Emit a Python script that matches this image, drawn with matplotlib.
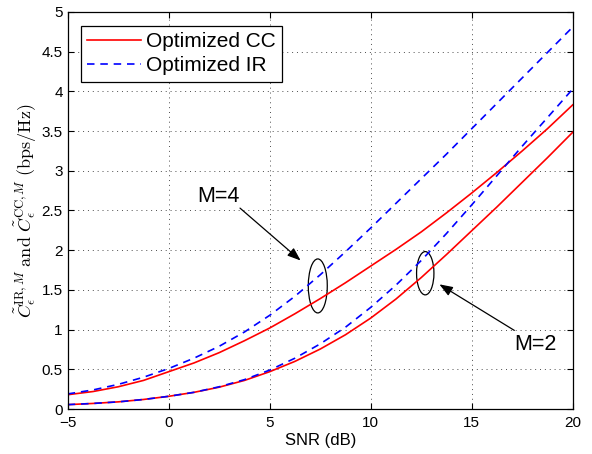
import matplotlib
matplotlib.use("Agg")
import matplotlib.pyplot as plt
from matplotlib.patches import Ellipse

plt.rcParams['font.family'] = ['Liberation Sans', 'DejaVu Sans']
plt.rcParams['mathtext.fontset'] = 'cm'

snr_db = [-5, -3.75, -2.5, -1.25, 0, 1.25, 2.5, 3.75, 5, 6.25, 7.5, 8.75,
          10, 11.25, 12.5, 13.75, 15, 16.25, 17.5, 18.75, 20]
cc_m4 = [0.18, 0.22, 0.28, 0.36, 0.47, 0.58, 0.71, 0.86, 1.02, 1.20, 1.39, 1.59,
         1.80, 2.01, 2.23, 2.47, 2.72, 2.98, 3.25, 3.53, 3.83]
ir_m4 = [0.19, 0.24, 0.31, 0.40, 0.51, 0.64, 0.79, 0.97, 1.18, 1.42, 1.69, 1.98,
         2.28, 2.59, 2.90, 3.21, 3.53, 3.85, 4.17, 4.49, 4.81]
cc_m2 = [0.055, 0.07, 0.09, 0.12, 0.16, 0.21, 0.275, 0.36, 0.47, 0.60, 0.755, 0.935,
         1.145, 1.385, 1.655, 1.945, 2.245, 2.545, 2.855, 3.165, 3.485]
ir_m2 = [0.055, 0.07, 0.09, 0.12, 0.16, 0.21, 0.28, 0.37, 0.49, 0.64, 0.82, 1.03,
         1.28, 1.56, 1.87, 2.21, 2.57, 2.94, 3.31, 3.67, 4.03]

x_ticks = [-5, 0, 5, 10, 15, 20]
y_ticks = [0, 0.5, 1, 1.5, 2, 2.5, 3, 3.5, 4, 4.5, 5]
y_ticklabels = ['0', '0.5', '1', '1.5', '2', '2.5', '3', '3.5', '4', '4.5', '5']

fig = plt.figure(figsize=(5.92, 4.54), dpi=100)
ax = fig.add_axes([0.1144, 0.0991, 0.853, 0.8745])

ax.plot(snr_db, cc_m4, color='red', lw=1.2, label='Optimized CC')
ax.plot(snr_db, ir_m4, color='blue', lw=1.2, dashes=(4.5, 3.5), label='Optimized IR')
ax.plot(snr_db, cc_m2, color='red', lw=1.2)
ax.plot(snr_db, ir_m2, color='blue', lw=1.2, dashes=(4.5, 3.5))

ax.set_xlim(-5, 20)
ax.set_ylim(0, 5)
ax.set_xticks(x_ticks)
ax.set_yticks(y_ticks)
ax.set_yticklabels(y_ticklabels)
ax.tick_params(direction='in', top=True, right=True, labelsize=11, length=4, width=0.8)
ax.tick_params(axis='x', pad=5)
ax.grid(True, linestyle=(0, (1, 4)), color='0.3', lw=0.7)
for s in ax.spines.values():
    s.set_linewidth(0.9)

ax.set_xlabel('SNR (dB)', fontsize=12, labelpad=2)
ax.set_ylabel(r'$\tilde{C}_{\epsilon}^{\mathrm{IR},M}\ \mathrm{and}\ \tilde{C}_{\epsilon}^{\mathrm{CC},M}\ \mathrm{(bps/Hz)}$',
              fontsize=13, labelpad=2)

leg = ax.legend(loc='upper left', fontsize=15, handlelength=2.6, fancybox=False,
                framealpha=1, edgecolor='black', borderpad=0.3, labelspacing=0.25,
                handletextpad=0.25, bbox_to_anchor=(0.0257, 0.965), borderaxespad=0.0)
leg.get_frame().set_linewidth(0.9)

ax.add_patch(Ellipse((7.38, 1.55), 0.94, 0.68, fill=False, ec='black', lw=0.9))
ax.add_patch(Ellipse((12.70, 1.71), 0.86, 0.545, fill=False, ec='black', lw=0.9))

ap = dict(arrowstyle='-|>,head_length=0.8,head_width=0.3', color='black', lw=0.9,
          shrinkA=0, shrinkB=0)
ax.annotate('', xy=(6.53, 1.87), xytext=(3.53, 2.53), arrowprops=ap)
ax.annotate('', xy=(13.4, 1.57), xytext=(17.11, 0.99), arrowprops=ap)
ax.text(2.46, 2.68, 'M=4', fontsize=15.5, ha='center', va='center')
ax.text(18.14, 0.81, 'M=2', fontsize=15.5, ha='center', va='center')

fig.savefig('out.png', dpi=100)
